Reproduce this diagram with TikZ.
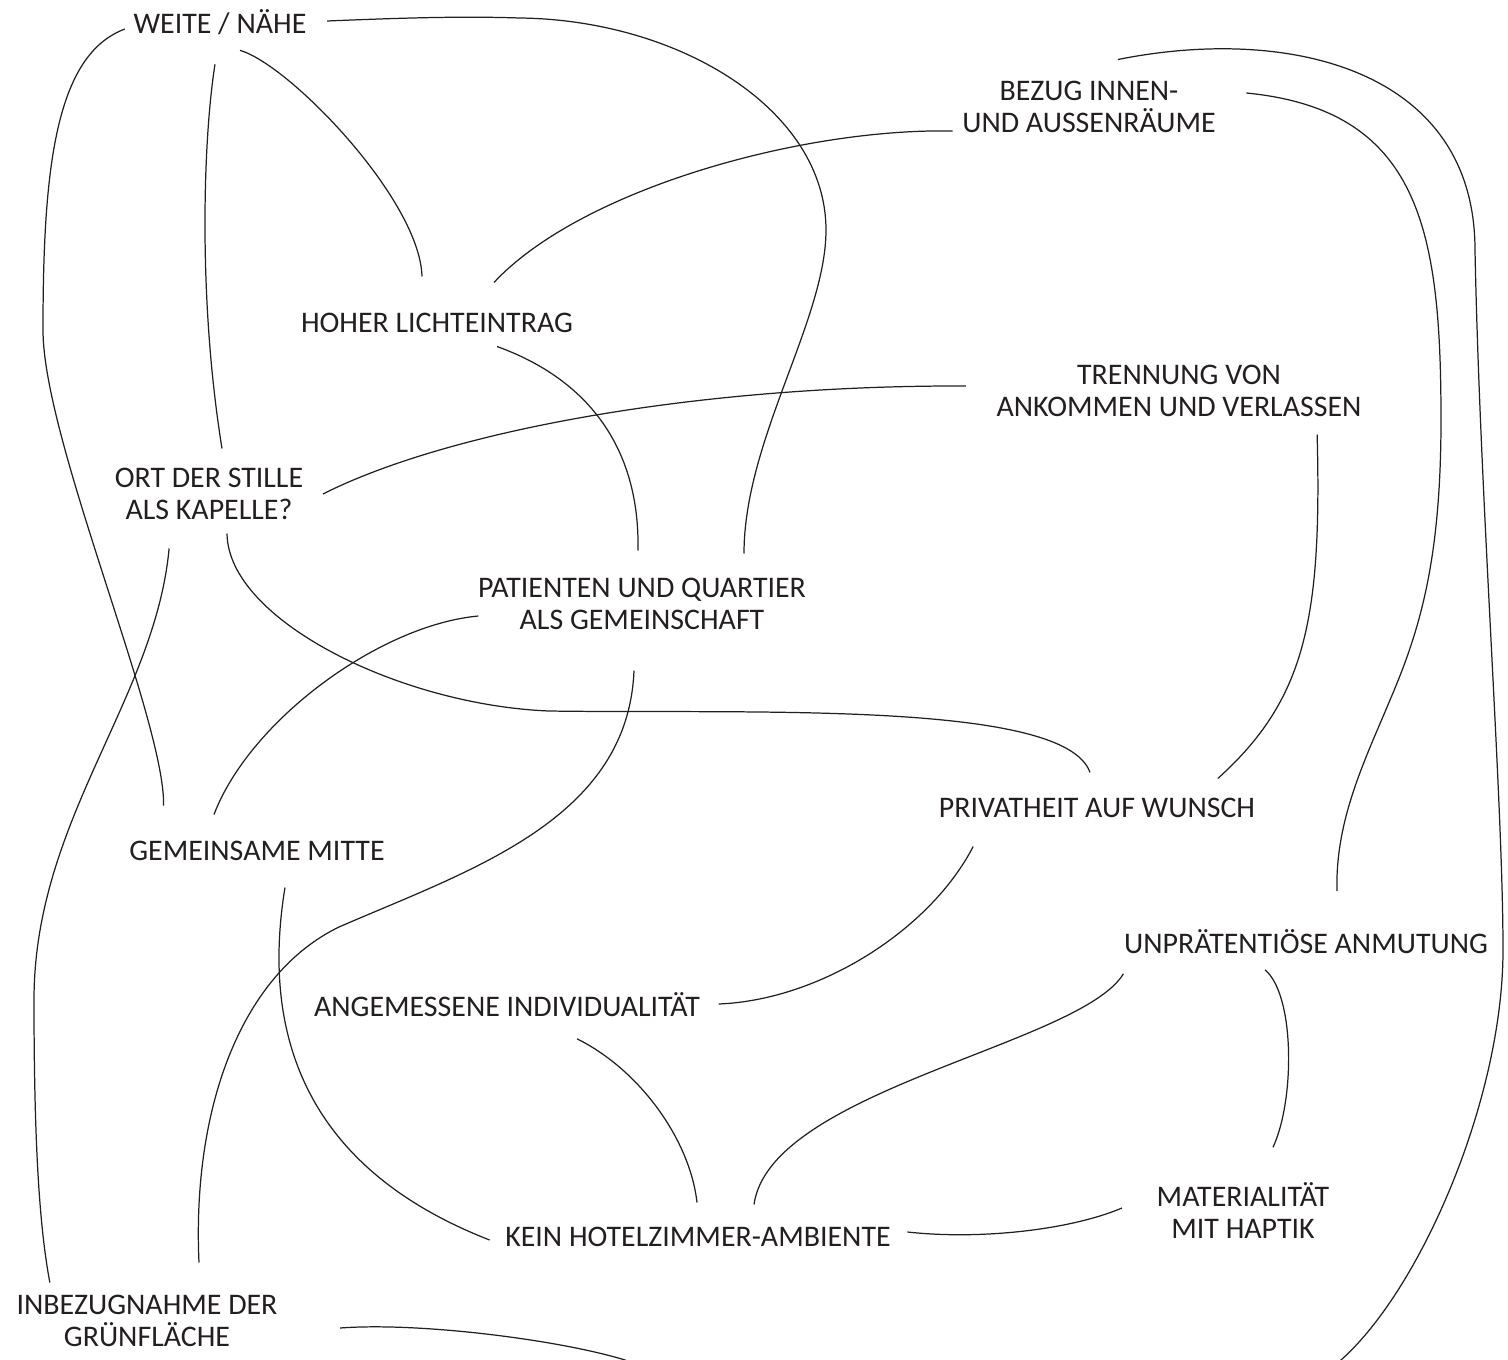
\documentclass[tikz,border=0pt]{standalone}
\usepackage{fontspec}
\setmainfont{Carlito}
\usepackage{tikz}
\definecolor{ink}{RGB}{35,31,32}

\begin{document}
\begin{tikzpicture}[x=0.01cm, y=-0.01cm,
    topic/.style={text=ink, align=center, inner sep=0pt,
                  font=\fontsize{8.5pt}{9.1pt}\selectfont},
    link/.style={ink, line width=0.35pt}]
  \useasboundingbox (0,0) rectangle (1508,1360);
  \clip (0,0) rectangle (1508,1360);

  \node[topic] (weite) at (220,22) {WEITE / NÄHE};
  \node[topic] (bezug) at (1089,107) {BEZUG INNEN-\\UND AUSSENRÄUME};
  \node[topic] (licht) at (437,323) {HOHER LICHTEINTRAG};
  \node[topic] (trennung) at (1179,391) {TRENNUNG VON\\ANKOMMEN UND VERLASSEN};
  \node[topic] (stille) at (209,494) {ORT DER STILLE\\ALS KAPELLE?};
  \node[topic] (gemeinschaft) at (642,604) {PATIENTEN UND QUARTIER\\ALS GEMEINSCHAFT};
  \node[topic] (privat) at (1097,808) {PRIVATHEIT AUF WUNSCH};
  \node[topic] (mitte) at (257,851) {GEMEINSAME MITTE};
  \node[topic] (anmutung) at (1306,942) {UNPRÄTENTIÖSE ANMUTUNG};
  \node[topic] (individ) at (507,1005) {ANGEMESSENE INDIVIDUALITÄT};
  \node[topic] (haptik) at (1243,1211) {MATERIALITÄT\\MIT HAPTIK};
  \node[topic] (hotel) at (698,1237) {KEIN HOTELZIMMER-AMBIENTE};
  \node[topic] (gruen) at (147,1321) {INBEZUGNAHME DER\\GRÜNFLÄCHE};

  \draw[link] ([shift={(-8,7)}]weite.west) .. controls (55,55) and (43,170) .. (43,330)
    .. controls (43,440) and (165,720) .. ([shift={(35,-35)}]mitte.north west);
  \draw[link] ([shift={(-5,29)}]weite.south) .. controls (203,140) and (198,300) .. ([shift={(13,-19)}]stille.north);
  \draw[link] ([shift={(20,15)}]weite.south) .. controls (290,65) and (420,200) .. ([shift={(-15,-36)}]licht.north);
  \draw[link] ([shift={(20,-1)}]weite.east) .. controls (400,18) and (460,16) .. (520,18)
    .. controls (680,20) and (826,110) .. (826,230)
    .. controls (826,320) and (744,440) .. ([shift={(102,-24)}]gemeinschaft.north);
  \draw[link] ([shift={(-9,24)}]bezug.west) .. controls (800,128) and (580,190) .. ([shift={(57,-30)}]licht.north);
  \draw[link] ([shift={(60,13)}]licht.south) .. controls (590,380) and (640,450) .. ([shift={(-4,-27)}]gemeinschaft.north);
  \draw[link] ([shift={(-30,-5)}]trennung.west) .. controls (700,385) and (450,430) .. ([shift={(19,0)}]stille.east);
  \draw[link] ([shift={(-45,17)}]trennung.south east) .. controls (1322,620) and (1305,700) .. ([shift={(-38,-19)}]privat.north east);
  \draw[link] ([shift={(30,-14)}]bezug.east) .. controls (1420,110) and (1441,230) .. (1441,420)
    .. controls (1441,560) and (1420,630) .. (1390,700)
    .. controls (1365,760) and (1335,820) .. ([shift={(31,-38)}]anmutung.north);
  \draw[link] ([shift={(29,-21)}]bezug.north) .. controls (1290,25) and (1475,70) .. (1475,250)
    .. controls (1480,500) and (1503,800) .. (1503,950)
    .. controls (1503,1100) and (1420,1290) .. (1341,1360)
    .. controls (1280,1420) and (700,1400) .. (625,1360)
    .. controls (560,1340) and (420,1322) .. ([shift={(62,7)}]gruen.east);
  \draw[link] ([shift={(1,12)}]gemeinschaft.west) .. controls (380,625) and (250,720) .. ([shift={(-43,-26)}]mitte.north);
  \draw[link] ([shift={(18,13)}]stille.south) .. controls (228,620) and (400,705) .. (549,711)
    .. controls (750,714) and (1065,700) .. ([shift={(-7,-25)}]privat.north);
  \draw[link] ([shift={(-8,40)}]gemeinschaft.south) .. controls (628,820) and (470,870) .. (339,927)
    .. controls (240,975) and (192,1110) .. ([shift={(52,-32)}]gruen.north);
  \draw[link] ([shift={(28,26)}]mitte.south) .. controls (260,1040) and (310,1170) .. ([shift={(-15,3)}]hotel.west);
  \draw[link] ([shift={(35,28)}]privat.south west) .. controls (930,930) and (820,1000) .. ([shift={(18,-1)}]individ.east);
  \draw[link] ([shift={(70,21)}]individ.south) .. controls (640,1070) and (690,1140) .. ([shift={(-1,-24)}]hotel.north);
  \draw[link] ([shift={(0,19)}]anmutung.south west) .. controls (1080,1045) and (770,1090) .. ([shift={(56,-22)}]hotel.north);
  \draw[link] ([shift={(-41,15)}]anmutung.south) .. controls (1295,995) and (1295,1100) .. ([shift={(30,-35)}]haptik.north);
  \draw[link] ([shift={(16,-5)}]hotel.east) .. controls (980,1240) and (1070,1230) .. ([shift={(-34,-3)}]haptik.west);
  \draw[link] ([shift={(55,28)}]stille.south west) .. controls (155,700) and (34,820) .. (34,1000)
    .. controls (34,1150) and (40,1230) .. ([shift={(34,-12)}]gruen.north west);
\end{tikzpicture}
\end{document}
